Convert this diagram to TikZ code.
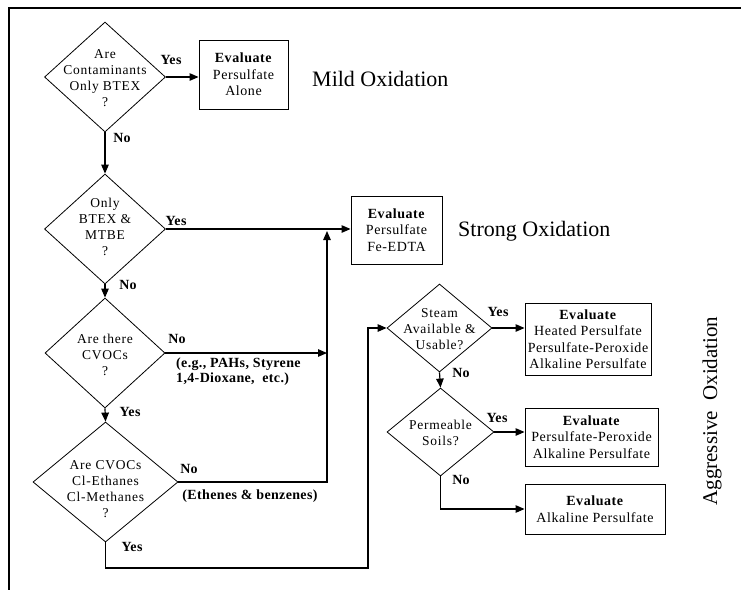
\documentclass[tikz,border=0pt]{standalone}
\usepackage{fontspec}
\setmainfont{Liberation Serif}
\newfontfamily\dspaced{Liberation Serif}[LetterSpace=5.5]
\newfontfamily\bspaced{Liberation Serif}[LetterSpace=4]
\newfontfamily\lspaced{Liberation Serif}[LetterSpace=2.5]
\usetikzlibrary{shapes.geometric,arrows.meta}
\begin{document}
\begin{tikzpicture}[x=1pt,y=-1pt,
  dia/.style={diamond,draw,line width=0.8pt,inner sep=0pt},
  dtext/.style={align=center,font=\dspaced\fontsize{13.5}{16}\selectfont,inner sep=0pt},
  box/.style={draw,line width=0.9pt,align=center,font=\bspaced\fontsize{14}{16.5}\selectfont,inner sep=0pt},
  lbl/.style={font=\lspaced\bfseries\fontsize{14}{16}\selectfont,inner sep=0pt},
  big/.style={font=\fontsize{22}{24}\selectfont,inner sep=0pt},
  arr/.style={line width=1.2pt,-{Triangle[length=9pt,width=7.5pt]}},
  ln/.style={line width=1.2pt}]
\useasboundingbox (0,0) rectangle (741,590);
\draw[line width=1.6pt] (741,8) -- (9,8) -- (9,590);

% decision diamonds
\node[dia,minimum width=121pt,minimum height=110pt] (d1) at (105,77) {};
\node[dtext] (d1t) at (105,78) {Are\\Contaminants\\Only BTEX\\?};
\node[dia,minimum width=121pt,minimum height=110pt] (d2) at (105,229) {};
\node[dtext] (d2t) at (105,227) {Only\\BTEX \&\\MTBE\\?};
\node[dia,minimum width=120pt,minimum height=110pt] (d3) at (105,353) {};
\node[dtext] (d3t) at (105,355) {Are there\\CVOCs\\?};
\node[dia,minimum width=145pt,minimum height=120pt] (d4) at (105.5,482) {};
\node[dtext] (d4t) at (105.5,489) {Are CVOCs\\Cl-Ethanes\\Cl-Methanes\\?};
\node[dia,minimum width=105pt,minimum height=88pt] (st) at (439.5,328) {};
\node[dtext] (stt) at (439.5,329) {Steam\\Available \&\\Usable?};
\node[dia,minimum width=107pt,minimum height=88pt] (pm) at (440.5,432) {};
\node[dtext] (pmt) at (440.5,433) {Permeable\\Soils?};

% result boxes
\node[box,minimum width=89pt,minimum height=69pt] (b1) at (243.5,74.5) {\textbf{Evaluate}\\Persulfate\\Alone};
\node[box,minimum width=91pt,minimum height=68pt] (b2) at (396.5,230) {\textbf{Evaluate}\\Persulfate\\Fe-EDTA};
\node[box,minimum width=126pt,minimum height=72pt] (b3) at (588,339) {\textbf{Evaluate}\\Heated Persulfate\\Persulfate-Peroxide\\Alkaline Persulfate};
\node[box,minimum width=133pt,minimum height=58pt] (b4) at (591.5,437) {\textbf{Evaluate}\\Persulfate-Peroxide\\Alkaline Persulfate};
\node[box,minimum width=140pt,minimum height=50pt] (b5) at (595,509) {\textbf{Evaluate}\\Alkaline Persulfate};

% headings
\node[big,anchor=west] (mild) at (312,79) {Mild Oxidation};
\node[big,anchor=west] (strong) at (458,231) {Strong Oxidation};
\node[big,rotate=90,font=\fontsize{21}{24}\selectfont] (aggr) at (712,411) {Aggressive\ \ Oxidation};

% connectors
\coordinate (j1) at (327,231);
\coordinate (c1) at (368,568);
\draw[arr] (d1.east) -- (d1.east -| b1.west);
\draw[arr] (d1.south) -- (d2.north);
\draw[arr] (d2.east) -- (d2.east -| b2.west);
\draw[arr] (d2.south) -- (d3.north);
\draw[arr] (d3.east) -- (d3.east -| j1);
\draw[arr] (d3.south) -- (d4.north);
\draw[arr] (d4.east) -| (j1);
\draw[arr] (d4.south) |- (c1) |- (st.west);
\draw[arr] (st.east) -- (st.east -| b3.west);
\draw[arr] (st.south) -- (pm.north);
\draw[arr] (pm.east) -- (pm.east -| b4.west);
\draw[arr] (pm.south) |- (b5.west);

% connector labels
\node[lbl] (y1) at (171,60) {Yes};
\node[lbl] (n1) at (122,138) {No};
\node[lbl] (y2) at (176,221) {Yes};
\node[lbl] (n2) at (128,285) {No};
\node[lbl] (n3) at (177,339) {No};
\node[lbl,align=left,anchor=north west,font=\lspaced\bfseries\fontsize{14}{14.5}\selectfont] (n3x) at (176,358) {(e.g., PAHs, Styrene\\1,4-Dioxane,\ \ etc.)};
\node[lbl] (y3) at (130,412) {Yes};
\node[lbl] (n4) at (189,469) {No};
\node[lbl] (n4x) at (250,496) {(Ethenes \& benzenes)};
\node[lbl] (y4) at (132,547) {Yes};
\node[lbl] (y5) at (498,312) {Yes};
\node[lbl] (n5) at (461,373) {No};
\node[lbl] (y6) at (497,418) {Yes};
\node[lbl] (n6) at (461,480) {No};
\end{tikzpicture}
\end{document}
